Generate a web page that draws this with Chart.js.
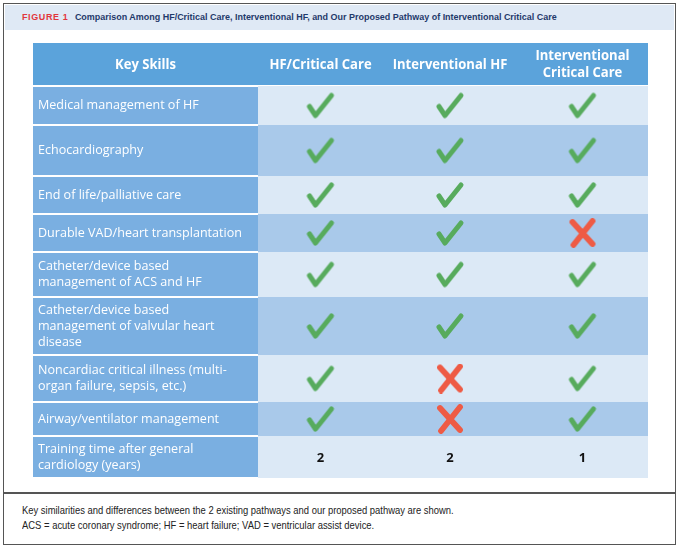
<!DOCTYPE html>
<html>
<head>
<meta charset="utf-8">
<script src="https://cdn.jsdelivr.net/npm/chart.js@4.4.1/dist/chart.umd.min.js"></script>
<style>
  body{margin:0;background:#fff;}
  #fig{position:relative;width:680px;height:549px;overflow:hidden;}
  #frame{position:absolute;left:3px;top:3px;width:673px;height:542px;border:1.5px solid #555;box-sizing:border-box;}
  #titlebar{position:absolute;left:5px;top:5px;width:669px;height:25px;background:#dfe9f5;}
  #title{position:absolute;left:22px;top:11px;font:bold 9.8px "Liberation Sans",sans-serif;color:#1f3a6b;white-space:nowrap;transform:scaleX(0.915);transform-origin:left center;}
  #title b{color:#e2363c;letter-spacing:0.7px;margin-right:7px;}
  #sep{position:absolute;left:4px;top:492px;width:671px;height:1.5px;background:#555;}
  .cap{position:absolute;left:22px;font:10.6px "Liberation Sans",sans-serif;color:#222;white-space:nowrap;transform:scaleX(0.89);transform-origin:left center;}
  #table{position:absolute;left:33px;top:43px;}
</style>
</head>
<body>
<div id="fig">
  <div id="frame"></div>
  <div id="titlebar"></div>
  <div id="title"><b>FIGURE 1</b>Comparison Among HF/Critical Care, Interventional HF, and Our Proposed Pathway of Interventional Critical Care</div>
  <canvas id="table" width="615" height="435"></canvas>
  <div id="sep"></div>
  <div class="cap" style="top:504px">Key similarities and differences between the 2 existing pathways and our proposed pathway are shown.</div>
  <div class="cap" style="top:519px">ACS = acute coronary syndrome; HF = heart failure; VAD = ventricular assist device.</div>
</div>
<script>
// ---------- data ----------
const headers = [["Key Skills"], ["HF/Critical Care"], ["Interventional HF"], ["Interventional", "Critical Care"]];
const skills = [
  ["Medical management of HF"],
  ["Echocardiography"],
  ["End of life/palliative care"],
  ["Durable VAD/heart transplantation"],
  ["Catheter/device based", "management of ACS and HF"],
  ["Catheter/device based", "management of valvular heart", "disease"],
  ["Noncardiac critical illness (multi-", "organ failure, sepsis, etc.)"],
  ["Airway/ventilator management"],
  ["Training time after general", "cardiology (years)"],
];
// 1 = check, 0 = cross
const hfCriticalCare = [1, 1, 1, 1, 1, 1, 1, 1];
const interventionalHF = [1, 1, 1, 1, 1, 1, 0, 0];
const interventionalCriticalCare = [1, 1, 1, 0, 1, 1, 1, 1];
const trainingYears = [2, 2, 1];

// ---------- layout (px inside the table canvas) ----------
const colEdges = [0, 225, 350, 484, 615];
const headerH = 43;
const rowHeights = [39, 51, 38, 38, 45, 58, 47, 34, 42];
const rowEdges = [0, headerH];
rowHeights.forEach(h => rowEdges.push(rowEdges[rowEdges.length - 1] + h));
const colCenter = c => (colEdges[c] + colEdges[c + 1]) / 2;
const rowCenter = r => (rowEdges[r + 1] + rowEdges[r + 2]) / 2;

const C = {header: "#5ba3db", skill: "#7aafe1", light: "#dce9f6", mid: "#a9c9ea", check: "#57ab5d", cross: "#ee5b45"};

// ---------- marks ----------
function makeMark(type){
  const cv = document.createElement("canvas");
  cv.width = 30; cv.height = 30;
  const g = cv.getContext("2d");
  g.lineCap = "round"; g.lineJoin = "round";
  if(type === "check"){
    g.strokeStyle = C.check; g.lineWidth = 5;
    g.beginPath(); g.moveTo(4, 16); g.lineTo(10, 25); g.lineTo(26, 5); g.stroke();
  } else {
    g.strokeStyle = C.cross; g.lineWidth = 5.8;
    g.beginPath(); g.moveTo(5, 4); g.lineTo(25, 26); g.stroke();
    g.beginPath(); g.moveTo(25, 3); g.lineTo(6, 27); g.stroke();
  }
  return cv;
}
const checkImg = makeMark("check"), crossImg = makeMark("cross");

function markSet(values, col){
  return {
    data: values.map((v, i) => ({x: colCenter(col), y: rowCenter(i), v})),
    pointStyle: ctx => ctx.raw && ctx.raw.v ? checkImg : crossImg,
    pointRadius: 14,
  };
}

// condensed text: squeeze horizontally via maxWidth
function squeezeText(ctx, t, px, py, f){
  ctx.fillText(t, px, py, ctx.measureText(t).width * f);
}

// ---------- table background + text plugin ----------
const tablePlugin = {
  id: "tableCells",
  beforeDatasetsDraw(chart){
    const {ctx, scales: {x, y}} = chart;
    const rect = (x0, x1, y0, y1, col) => {
      const px0 = x.getPixelForValue(x0), px1 = x.getPixelForValue(x1);
      const py0 = y.getPixelForValue(y0), py1 = y.getPixelForValue(y1);
      ctx.fillStyle = col;
      ctx.fillRect(px0, py0, px1 - px0, py1 - py0);
    };
    ctx.save();
    // header
    rect(colEdges[0], colEdges[4], rowEdges[0], rowEdges[1] - 1, C.header);
    // body rows
    skills.forEach((s, i) => {
      const top = rowEdges[i + 1], bot = rowEdges[i + 2];
      rect(colEdges[0], colEdges[1], top + 1, bot - 1, C.skill);
      rect(colEdges[1], colEdges[4], top, bot, i % 2 ? C.mid : C.light);
    });
    // header text
    ctx.fillStyle = "#fff";
    ctx.textAlign = "center"; ctx.textBaseline = "middle";
    ctx.font = 'bold 15px "Open Sans", sans-serif';
    headers.forEach((lines, c) => {
      const cy = y.getPixelForValue(headerH / 2);
      lines.forEach((t, k) => squeezeText(ctx, t, x.getPixelForValue(colCenter(c)), cy + (k - (lines.length - 1) / 2) * 17, 0.87));
    });
    // skill labels
    ctx.textAlign = "left";
    ctx.font = '13.5px "Open Sans", sans-serif';
    skills.forEach((lines, i) => {
      const cy = y.getPixelForValue(rowCenter(i));
      lines.forEach((t, k) => squeezeText(ctx, t, x.getPixelForValue(5), cy + (k - (lines.length - 1) / 2) * 16, 0.93));
    });
    // training years
    ctx.textAlign = "center";
    ctx.fillStyle = "#111";
    ctx.font = 'bold 13px "Open Sans", sans-serif';
    trainingYears.forEach((v, c) => ctx.fillText(String(v), x.getPixelForValue(colCenter(c + 1)), y.getPixelForValue(rowCenter(skills.length - 1)) + 1));
    ctx.restore();
  }
};

new Chart(document.getElementById("table"), {
  type: "scatter",
  data: {datasets: [markSet(hfCriticalCare, 1), markSet(interventionalHF, 2), markSet(interventionalCriticalCare, 3)]},
  options: {
    responsive: false, animation: false, events: [],
    layout: {padding: 0, autoPadding: false},
    plugins: {legend: {display: false}, tooltip: {enabled: false}},
    scales: {
      x: {type: "linear", min: 0, max: colEdges[4], display: false},
      y: {type: "linear", min: 0, max: rowEdges[rowEdges.length - 1], reverse: true, display: false},
    },
  },
  plugins: [tablePlugin],
});
</script>
</body>
</html>
